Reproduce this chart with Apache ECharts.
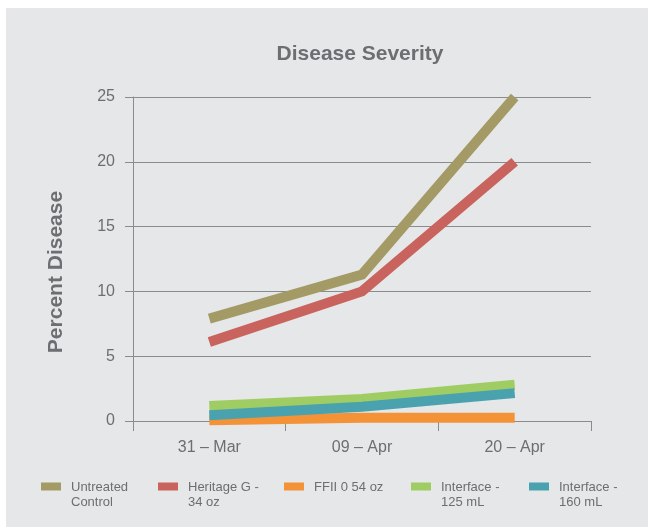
<!DOCTYPE html>
<html><head><meta charset="utf-8">
<script src="https://cdn.jsdelivr.net/npm/echarts@6/dist/echarts.min.js"></script>
<style>html,body{margin:0;padding:0;background:#fff}#c{width:648px;height:527px}</style>
</head><body><div id="c"></div>
<script>
const categories = ['31 – Mar', '09 – Apr', '20 – Apr'];
const seriesNames = ['Untreated Control', 'Heritage G - 34 oz', 'FFII 0 54 oz', 'Interface - 125 mL', 'Interface - 160 mL'];
const legendLines = [['Untreated', 'Control'], ['Heritage G -', '34 oz'], ['FFII 0 54 oz'], ['Interface -', '125 mL'], ['Interface -', '160 mL']];
const untreated = [7.9, 11.3, 25];
const heritage = [6.1, 10.0, 20.0];
const ffii = [0.05, 0.25, 0.25];
const if125 = [1.15, 1.7, 2.8];
const if160 = [0.45, 1.1, 2.15];
const yTicks = [0, 5, 10, 15, 20, 25];
const values = [untreated, heritage, ffii, if125, if160];
const colors = ['#a49a65', '#c9635d', '#f39237', '#a0cd63', '#4aa2ae'];

const font = '"Liberation Sans", Arial, Helvetica, sans-serif';
const grey = '#6d6e71';
const legendX = [41, 158, 284, 411, 529];

const chart = echarts.init(document.getElementById('c'), null, {renderer: 'canvas'});
chart.setOption({
  backgroundColor: '#fff',
  animation: false,
  graphic: [{type: 'rect', left: 6, top: 8, shape: {width: 642, height: 519}, style: {fill: '#e6e7e8'}, z: -10}],
  title: {text: 'Disease Severity', left: 360, textAlign: 'center', top: 44, padding: 0,
    textStyle: {fontFamily: font, fontSize: 21, fontWeight: 'bold', color: grey}},
  grid: {left: 133, top: 97, width: 458, height: 324},
  xAxis: {type: 'category', data: categories, boundaryGap: true,
    axisLine: {lineStyle: {color: '#8a8b8d', width: 1}},
    axisTick: {show: true, length: 10, lineStyle: {color: '#8a8b8d'}},
    axisLabel: {fontFamily: font, fontSize: 16, color: grey, margin: 19}},
  yAxis: {type: 'value', min: 0, max: 25, interval: 5,
    name: 'Percent Disease', nameLocation: 'middle', nameGap: 66, nameRotate: 90,
    nameTextStyle: {fontFamily: font, fontSize: 21, fontWeight: 'bold', color: grey, padding: [0, 0, 0, -26]},
    axisLine: {show: true, lineStyle: {color: '#8a8b8d'}},
    axisTick: {show: true, length: 8, lineStyle: {color: '#8a8b8d'}},
    splitLine: {lineStyle: {color: '#8a8b8d', width: 1}},
    axisLabel: {fontFamily: font, fontSize: 16, color: grey, margin: 18,
      formatter: v => yTicks.includes(v) ? String(v) : ''}},
  legend: seriesNames.map((n, i) => ({
    data: [n], left: legendX[i] - 5, top: 479, itemWidth: 0, itemHeight: 0, itemGap: 0,
    icon: 'rect', padding: 0,
    formatter: () => {
      const l = legendLines[i];
      let s = '{i' + i + '|}{g|}{t|' + l[0] + '}';
      if (l[1]) s += '\n{b|}{t|' + l[1] + '}';
      return s;
    },
    textStyle: {fontFamily: font, fontSize: 13, color: grey, lineHeight: 15,
      rich: Object.assign({
        g: {width: 10, height: 15},
        b: {width: 30, height: 15},
        t: {fontFamily: font, fontSize: 13, color: grey, lineHeight: 15, verticalAlign: 'middle', padding: [2, 0, 0, 0]}
      }, Object.fromEntries(colors.map((c, k) => ['i' + k, {width: 20, height: 8, backgroundColor: c, verticalAlign: 'middle'}])))}
  })),
  series: seriesNames.map((n, i) => ({
    name: n, type: 'line', data: values[i], symbol: 'none', color: colors[i],
    lineStyle: {width: 10, color: colors[i], cap: 'butt', join: 'miter'}
  }))
});
</script></body></html>
